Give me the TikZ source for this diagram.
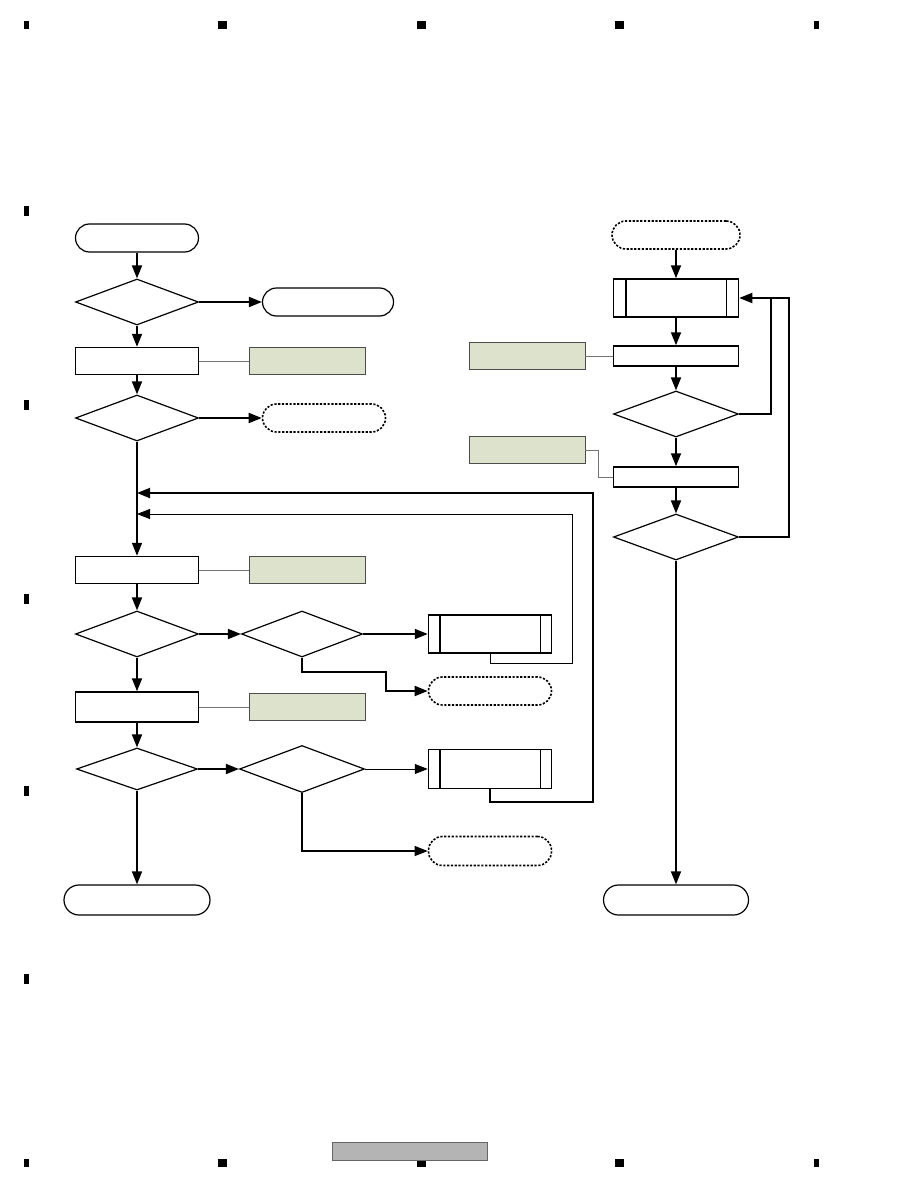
\documentclass[tikz,border=0pt]{standalone}
\usetikzlibrary{shapes.geometric,arrows.meta}
\definecolor{notegreen}{RGB}{221,226,204}
\definecolor{footgray}{RGB}{180,180,180}
\tikzset{
  term/.style={draw,rectangle,rounded corners=14pt,minimum width=123pt,minimum height=28pt,line width=1.2pt,inner sep=0pt},
  dterm/.style={term,dash pattern=on 2.2pt off 1.6pt,line width=1.6pt},
  dec/.style={draw,diamond,minimum width=123pt,minimum height=46pt,line width=1.2pt,inner sep=0pt},
  proc/.style={draw,rectangle,minimum width=123pt,minimum height=27pt,line width=1.5pt,inner sep=0pt},
  sub/.style={proc,minimum height=38pt},
  note/.style={draw=black!70,fill=notegreen,rectangle,minimum width=116pt,minimum height=27pt,line width=0.7pt,inner sep=0pt},
  flow/.style={line width=1.8pt,-{Triangle[length=13pt,width=10pt]}},
  thinflow/.style={line width=0.8pt,-{Triangle[length=13pt,width=10pt]}},
  link/.style={draw=black!55,line width=0.7pt},
  edgemark/.style={fill=black},
}
\newcommand{\subbars}[1]{%
  \draw[line width=1.5pt] ([xshift=12pt]#1.north west) -- ([xshift=12pt]#1.south west);
  \draw[line width=1pt] ([xshift=-12pt]#1.north east) -- ([xshift=-12pt]#1.south east);}
\begin{document}
\begin{tikzpicture}[x=1pt,y=-1pt]
\useasboundingbox (0,0) rectangle (918,1188);

% page marks
\foreach \mx/\mw in {24/5,218/9,417/9,615/9,814/5} {
  \fill[edgemark] (\mx,21) rectangle ++(\mw,8);
  \fill[edgemark] (\mx,1159) rectangle ++(\mw,8);
}
\foreach \my in {206,400,594,786,974}
  \fill[edgemark] (24,\my) rectangle ++(5,10);

% left column
\node[term] (start) at (137,238) {};
\node[dec] (d1) at (137,302) {};
\node[term,minimum width=131pt] (t1) at (328,302) {};
\node[proc] (p1) at (137,361) {};
\node[note] (n1) at (307,361) {};
\node[dec] (d2) at (137,418) {};
\node[dterm] (t0) at (324,418) {};
\coordinate (j1) at (137,493);
\coordinate (j2) at (137,514);
\node[proc] (p2) at (137,570) {};
\node[note] (n2) at (307,570) {};
\node[dec] (d3) at (137,634) {};
\node[dec,minimum width=121pt] (d4) at (302,634) {};
\node[sub] (s1) at (490,634) {};
\subbars{s1}
\node[dterm] (t2) at (490,691) {};
\node[proc,minimum height=30pt] (p3) at (137,707) {};
\node[note] (n3) at (307,707) {};
\node[dec,minimum width=121pt,minimum height=42pt] (d5) at (137,769) {};
\node[dec,minimum width=125pt,minimum height=47pt] (d6) at (302,769) {};
\node[sub,minimum height=39pt] (s2) at (490,769) {};
\subbars{s2}
\node[dterm,minimum height=29pt] (t3) at (490,851) {};
\node[term,minimum width=146pt,minimum height=30pt,rounded corners=15pt] (end1) at (137,900) {};

\draw[flow] (start) -- (d1);
\draw[flow] (d1) -- (t1);
\draw[flow] (d1) -- (p1);
\draw[link] (p1) -- (n1);
\draw[flow] (p1) -- (d2);
\draw[flow] (d2) -- (t0);
\draw[flow] (d2) -- (p2);
\draw[link] (p2) -- (n2);
\draw[flow] (p2) -- (d3);
\draw[flow] (d3) -- (d4);
\draw[flow] (d4) -- (s1);
\coordinate (k1) at (386,672);
\draw[flow] (d4.south) |- (k1) |- (t2.west);
\coordinate (l1) at (572,663);
\draw[thinflow] (s1.south) |- (l1) |- (j2);
\draw[flow] (d3) -- (p3);
\draw[link] (p3) -- (n3);
\draw[flow] (p3) -- (d5);
\draw[flow] (d5) -- (d6);
\draw[thinflow] (d6) -- (s2);
\coordinate (l2) at (593,802);
\draw[flow] (s2.south) |- (l2) |- (j1);
\draw[thinflow,line width=1.1pt] (d6.south) |- (t3.west);
\draw[flow,line width=1.5pt] (d5) -- (end1);

% right column
\node[dterm,minimum width=128pt] (rstart) at (676,235) {};
\node[sub,minimum width=125pt] (s3) at (676,298) {};
\draw[line width=1.5pt] ([xshift=13pt]s3.north west) -- ([xshift=13pt]s3.south west);
\draw[line width=1.5pt] ([xshift=-13pt]s3.north east) -- ([xshift=-13pt]s3.south east);
\node[proc,minimum width=125pt,minimum height=20pt] (r1) at (676,356) {};
\node[note] (nr1) at (527,356) {};
\node[dec,minimum width=125pt] (dr1) at (676,414) {};
\node[proc,minimum width=125pt,minimum height=20pt] (r2) at (676,477) {};
\node[note] (nr2) at (527,450) {};
\node[dec,minimum width=125pt] (dr2) at (676,537) {};
\node[term,minimum width=145pt,minimum height=30pt,rounded corners=15pt] (end2) at (676,900) {};

\draw[flow] (rstart) -- (s3);
\draw[flow] (s3) -- (r1);
\draw[link] (nr1) -- (r1);
\draw[flow] (r1) -- (dr1);
\draw[flow] (dr1) -- (r2);
\draw[link] (nr2.east) -- ++(13,0) |- (r2.west);
\draw[flow] (r2) -- (dr2);
\coordinate (q1) at (771,298);
\coordinate (q2) at (789,298);
\draw[flow] (dr1.east) -| (q1) -- (s3.east);
\draw[line width=1.2pt] (dr2.east) -| (q2) -- (q1);
\draw[flow,line width=1.5pt] (dr2) -- (end2);

% footer
\node[draw=black!60,fill=footgray,line width=0.8pt,minimum width=155pt,minimum height=18pt,inner sep=0pt] (foot) at (409.5,1151) {};
\end{tikzpicture}
\end{document}
